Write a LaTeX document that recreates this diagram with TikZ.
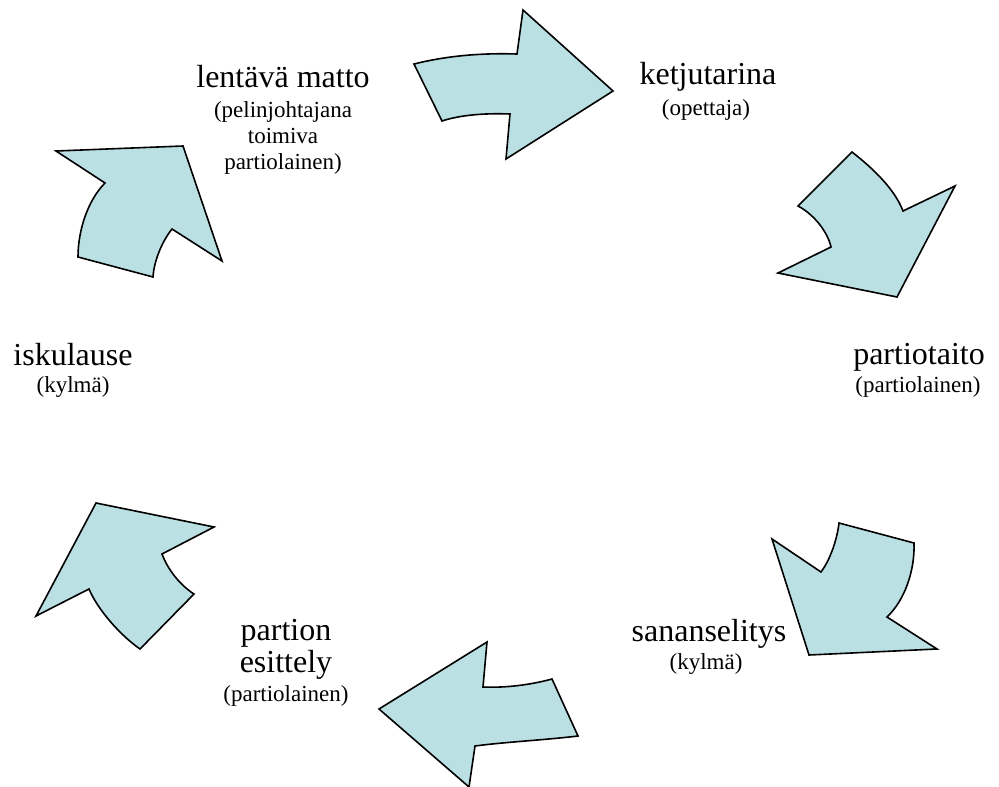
\documentclass[tikz,border=0pt]{standalone}
\usepackage{fontspec}
\setmainfont{Liberation Serif}
\definecolor{kaarisin}{HTML}{BBE0E3}
\tikzset{
  nuoli/.style={draw=black,line width=1.6pt,line join=miter,fill=kaarisin},
  iso/.style={align=center,font=\fontsize{32}{32}\selectfont},
  pieni/.style={align=center,font=\fontsize{23}{26}\selectfont}
}
\begin{document}
\begin{tikzpicture}[x=1pt,y=-1pt]
			\useasboundingbox (0,0) rectangle (999,787);

			% nuolet myotapaivaan
			\draw[nuoli] (414,64) .. controls (450,55) and (485,53) .. (517,54) -- (523,10) -- (613,91)
				-- (506,159) -- (510,114) .. controls (485,113) and (460,115) .. (442,121) -- cycle;
			\draw[nuoli] (852,152) .. controls (875,170) and (895,190) .. (903,211) -- (955,186) -- (897,297)
				-- (778,273) -- (831,247) .. controls (828,233) and (815,215) .. (798,206) -- cycle;
			\draw[nuoli] (839,523) -- (914,543) .. controls (915,570) and (905,600) .. (887,617) -- (937,649)
				-- (809,655) -- (772,539) -- (821,572) .. controls (830,560) and (837,540) .. cycle;
			\draw[nuoli] (379,709) -- (487,642) -- (483,687) .. controls (505,688) and (530,685) .. (552,679)
				-- (578,736) .. controls (545,740) and (505,742) .. (475,746) -- (469,787) -- cycle;
			\draw[nuoli] (96,503) -- (214,527) -- (162,554) .. controls (168,570) and (180,585) .. (194,594)
				-- (140,649) .. controls (120,635) and (98,610) .. (89,589) -- (36,616) -- cycle;
			\draw[nuoli] (56,151) -- (183,146) -- (222,261) -- (172,229) .. controls (163,240) and (154,260) .. (153,277)
				-- (78,257) .. controls (78,230) and (88,200) .. (105,183) -- cycle;

			% tekstit
			\node (matto) at (283,77)[iso]{lentävä matto};
			\node (mattorooli) at (283,138)[pieni]{(pelinjohtajana\\toimiva\\partiolainen)};

			\node (ketju) at (708,77)[iso]{ketjutarina};
			\node (ketjurooli) at (706,110)[pieni]{(opettaja)};

			\node (taito) at (919,357)[iso]{partiotaito};
			\node (taitorooli) at (918,387)[pieni]{(partiolainen)};

			\node (sana) at (709,634)[iso]{sananselitys};
			\node (sanarooli) at (706,664)[pieni]{(kylmä)};

			\node (esittely) at (286,649)[iso]{partion\\esittely};
			\node (esittelyrooli) at (286,696)[pieni]{(partiolainen)};

			\node (isku) at (73,355)[iso]{iskulause};
			\node (iskurooli) at (73,387)[pieni]{(kylmä)};
		\end{tikzpicture}
\end{document}
